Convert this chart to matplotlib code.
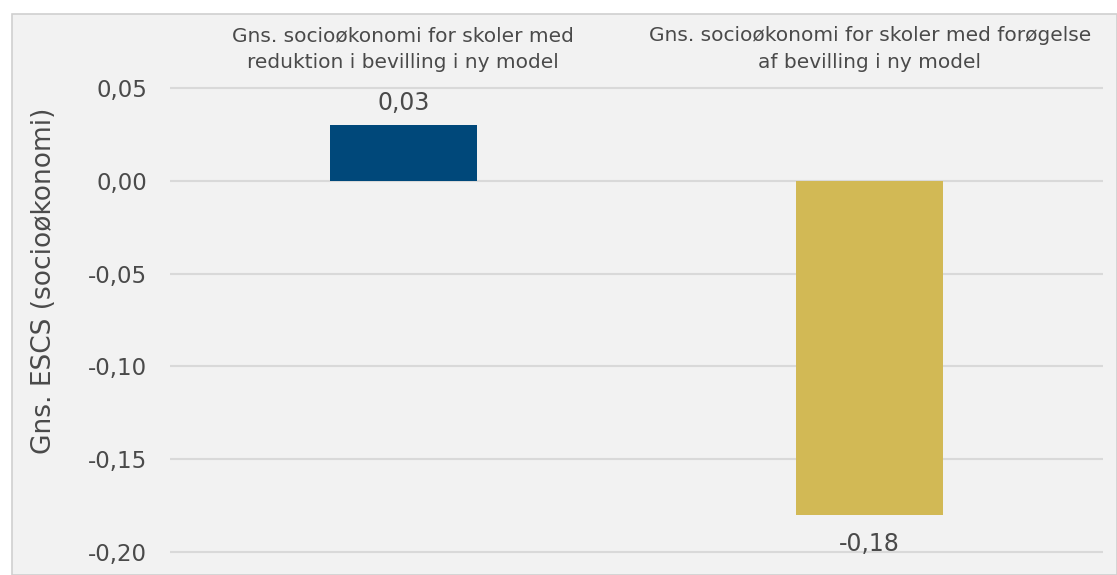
import matplotlib.pyplot as plt
from matplotlib.patches import Rectangle

# data
categories = ['Gns. socioøkonomi for skoler med\nreduktion i bevilling i ny model',
              'Gns. socioøkonomi for skoler med forøgelse\naf bevilling i ny model']
values = [0.03, -0.18]
colors = ['#00487A', '#D2B955']
yticks = [0.05, 0.00, -0.05, -0.10, -0.15, -0.20]

W, H = 1117, 575
txt = '#4A4A4A'
fig = plt.figure(figsize=(W / 100, H / 100), dpi=100)
fig.patch.set_facecolor('white')

# light grey chart panel with thin border
fig.patches.append(Rectangle((12 / W, 0), 1 - 12 / W, 1 - 14 / H, transform=fig.transFigure,
                             facecolor='#F2F2F2', edgecolor='#D0D0D0', linewidth=1.2, zorder=-5))

ax = fig.add_axes([170 / W, 5 / H, 933 / W, (570 - 75) / H])
ax.set_facecolor('none')

x = range(len(categories))
ax.bar(x, values, width=0.315, color=colors, zorder=3)

ax.set_xlim(-0.5, 1.5)
ax.set_ylim(-0.2 - 18 / 1860, 0.05 + 13 / 1860)
ax.set_yticks(yticks)
ax.set_yticklabels([f'{v:.2f}'.replace('.', ',') for v in yticks], fontsize=16.5, color=txt,
                   family='DejaVu Sans')
ax.yaxis.grid(True, color='#D9D9D9', linewidth=1.5, zorder=0)
ax.tick_params(axis='y', length=0, pad=16.5)

ax.xaxis.tick_top()
ax.set_xticks(list(x))
ax.set_xticklabels(categories, fontsize=14.5, color=txt, family='DejaVu Sans', linespacing=1.55)
ax.tick_params(axis='x', length=0, pad=2)

for s in ax.spines.values():
    s.set_visible(False)

for xi, v in zip(x, values):
    lbl = f'{v:.2f}'.replace('.', ',')
    if v >= 0:
        ax.text(xi, v + 0.0055, lbl, ha='center', va='bottom', fontsize=17, color=txt,
                family='DejaVu Sans')
    else:
        ax.text(xi, v - 0.009, lbl, ha='center', va='top', fontsize=17, color=txt,
                family='DejaVu Sans')

fig.text(44 / W, 1 - 281 / H, 'Gns. ESCS (socioøkonomi)', rotation=90, ha='center', va='center',
         fontsize=19, color=txt, family='DejaVu Sans')

fig.savefig('out.png', dpi=100, facecolor=fig.get_facecolor())
